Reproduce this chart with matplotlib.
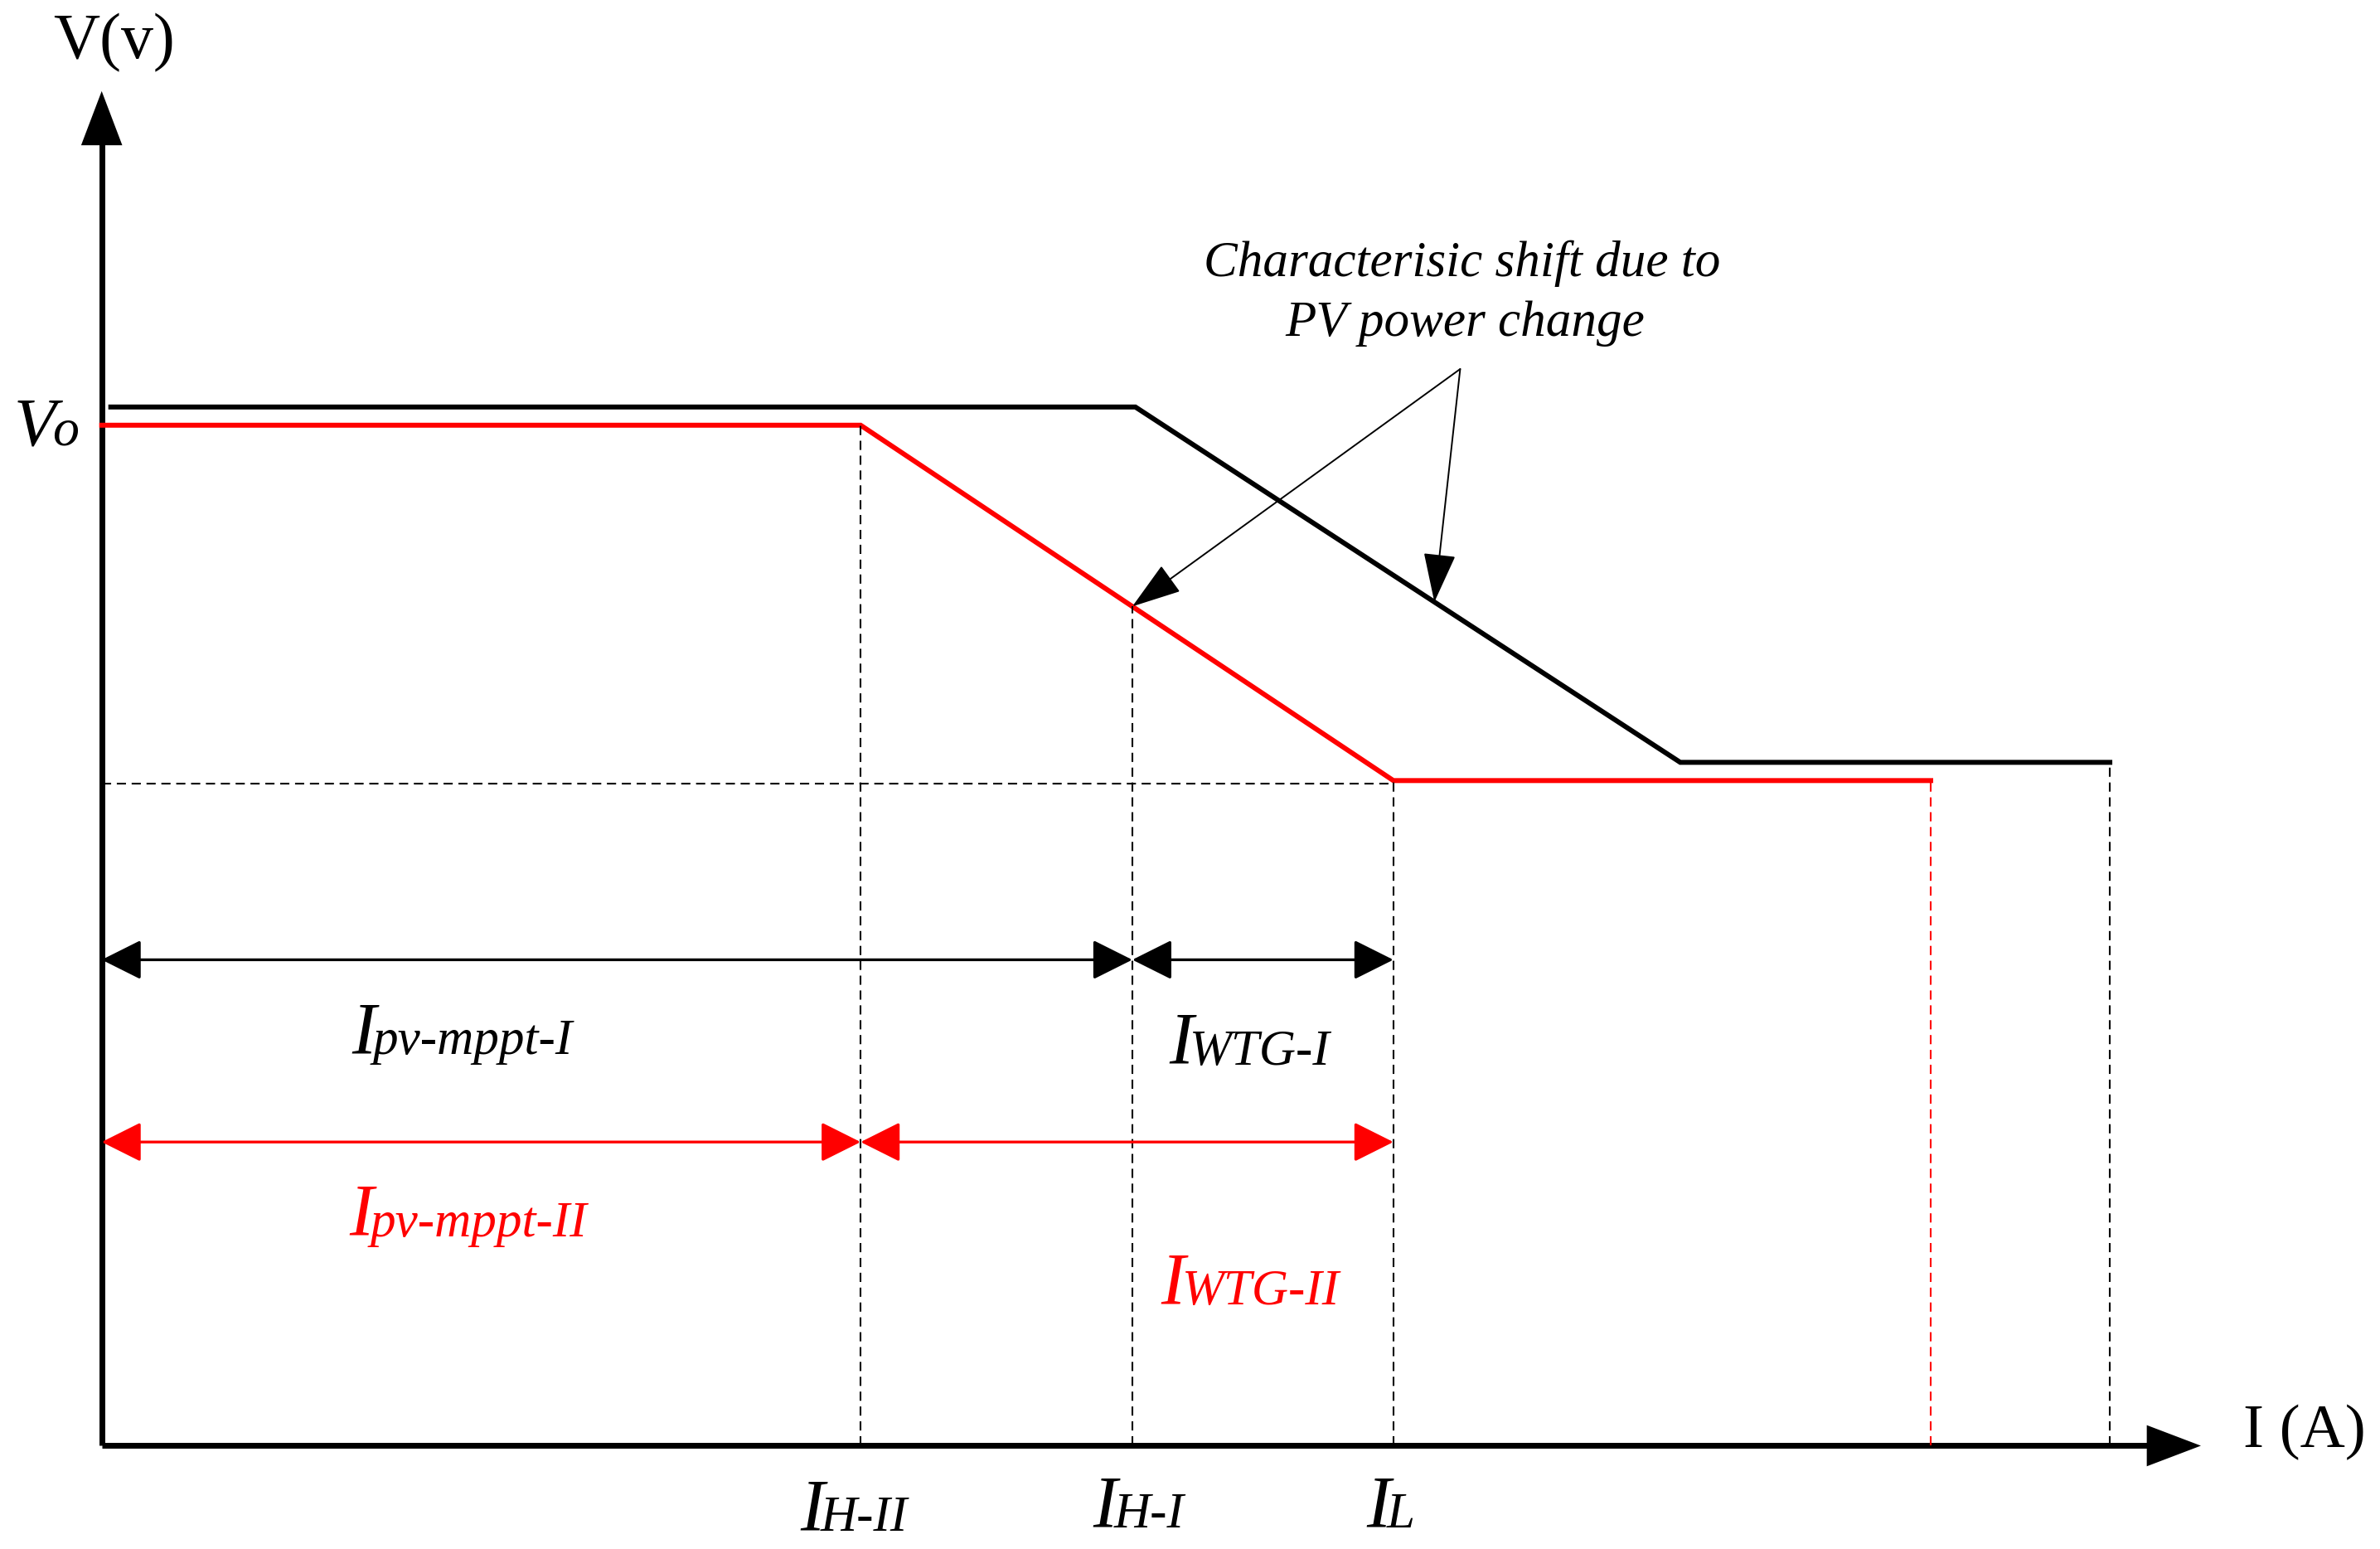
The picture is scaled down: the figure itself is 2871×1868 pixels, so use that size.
import numpy as np
import matplotlib
matplotlib.use("Agg")
from matplotlib import pyplot as plt

plt.rcParams["font.family"] = ["Liberation Serif", "DejaVu Serif"]

RED = "#ff0000"

# ------------------------------  data (diagram units)  ------------------------------ #
# characteristic I (black) and characteristic II (red, after PV power change)
curve_I_x = [6, 681, 1040, 1323]
curve_I_y = [684, 684, 450, 450]
curve_II_x = [0, 500, 851, 1205]
curve_II_y = [672, 672, 438, 438]

# current marks on the I axis
I_H_II, I_H_I, I_L = 500, 679, 851
V_ref = 436                      # dashed reference level

x_axis_end, y_axis_end = 1383, 892

# dimension rows (current spans)
row_I, row_II = 320, 200
spans_I = [(0, I_H_I), (I_H_I, I_L)]
spans_II = [(0, I_H_II), (I_H_II, I_L)]

# ------------------------------------  figure  ------------------------------------- #
fig = plt.figure(figsize=(28.71, 18.68), dpi=100)
ax = fig.add_axes([0, 0, 1, 1])
ax.set_xlim(-67, 1501)
ax.set_ylim(-68, 952)
ax.axis("off")

# axes with arrow heads
ax.plot([0, 0], [0, y_axis_end - 30], color="k", lw=5, solid_capstyle="butt")
ax.plot([0, x_axis_end - 30], [0, 0], color="k", lw=5, solid_capstyle="butt")
for tip, tail in [((0, y_axis_end), (0, y_axis_end - 40)),
                  ((x_axis_end, 0), (x_axis_end - 40, 0))]:
    ax.annotate("", xy=tip, xytext=tail,
                arrowprops=dict(arrowstyle="-|>,head_length=1,head_width=0.38",
                                mutation_scale=47, lw=0, color="k",
                                shrinkA=0, shrinkB=0))

# characteristics
ax.plot(curve_I_x, curve_I_y, color="k", lw=4.3, solid_joinstyle="miter")
ax.plot(curve_II_x, curve_II_y, color=RED, lw=4.3, solid_joinstyle="miter")

# dashed guide lines
dash = dict(lw=1.5, dashes=(5.3, 3.3))
knee_H_I = np.interp(I_H_I, curve_II_x, curve_II_y)
ax.plot([0, I_L], [V_ref, V_ref], color="k", **dash)
ax.plot([I_H_II, I_H_II], [0, curve_II_y[1]], color="k", **dash)
ax.plot([I_H_I, I_H_I], [0, knee_H_I], color="k", **dash)
ax.plot([I_L, I_L], [0, curve_II_y[2]], color="k", **dash)
ax.plot([curve_II_x[-1]] * 2, [0, curve_II_y[-1]], color=RED, **dash)
ax.plot([curve_I_x[-1]] * 2, [0, curve_I_y[-1]], color="k", **dash)

# dimension arrows
for spans, row, col in [(spans_I, row_I, "k"), (spans_II, row_II, RED)]:
    for a, b in spans:
        ax.annotate("", xy=(b, row), xytext=(a, row),
                    arrowprops=dict(arrowstyle="<|-|>,head_length=1,head_width=0.5",
                                    mutation_scale=30, lw=2.4, color=col,
                                    shrinkA=0, shrinkB=0))

# annotation arrows
src = (895, 709)
for tgt in [(I_H_I, knee_H_I), (878, np.interp(878, curve_I_x, curve_I_y))]:
    ax.annotate("", xy=tgt, xytext=src,
                arrowprops=dict(arrowstyle="-|>,head_length=1,head_width=0.33",
                                mutation_scale=38, lw=1.4, color="k",
                                shrinkA=0, shrinkB=0))

ax.text(896, 770, "Characterisic shift due to", fontsize=44, style="italic",
        ha="center", va="baseline")
ax.text(898, 731, "PV power change", fontsize=44, style="italic",
        ha="center", va="baseline")


def sub_label(x, y, main, sub, color="k", size=63, sub_size=44):
    t = ax.text(x, y, main, fontsize=size, style="italic", color=color,
                ha="left", va="baseline")
    ax.annotate(sub, xy=(1, 0), xycoords=t, xytext=(-3, 3),
                textcoords="offset points", fontsize=sub_size, style="italic",
                color=color, ha="left", va="bottom")


# axis labels
ax.text(8, 924, "V(v)", fontsize=56, ha="center", va="center")
ax.text(1451, 9, "I (A)", fontsize=54, ha="center", va="center")
sub_label(-58, 659, "V", "o", size=60, sub_size=46)

# span labels
sub_label(165, 259, "I", "pv-mppt-I")
sub_label(703, 252, "I", "WTG-I")
sub_label(163, 139, "I", "pv-mppt-II", color=RED)
sub_label(698, 94, "I", "WTG-II", color=RED)

# current marks
sub_label(460, -55, "I", "H-II")
sub_label(653, -53, "I", "H-I")
sub_label(833, -53, "I", "L")

fig.savefig("out.png", dpi=100)
